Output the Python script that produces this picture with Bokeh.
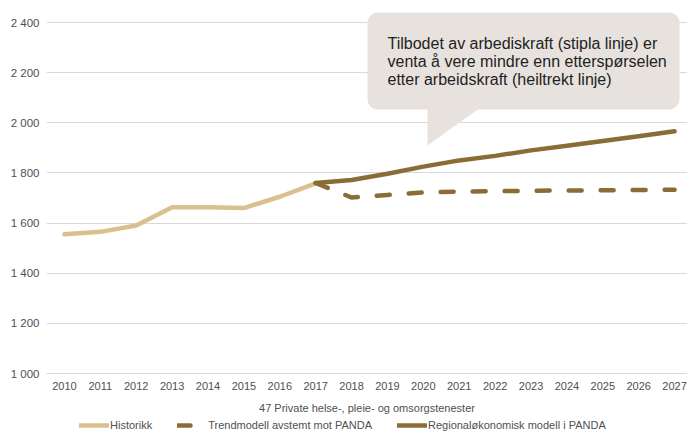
from bokeh.plotting import figure
from bokeh.models import Range1d, FixedTicker, Legend, LegendItem
from bokeh.layouts import column
from bokeh.core.properties import value
from bokeh.embed import file_html
from bokeh.resources import INLINE

# ---- data ----
years_hist = [2010, 2011, 2012, 2013, 2014, 2015, 2016, 2017]
historikk = [1555, 1565, 1590, 1663, 1663, 1660, 1705, 1758]

years_proj = [2017, 2018, 2019, 2020, 2021, 2022, 2023, 2024, 2025, 2026, 2027]
trendmodell = [1760, 1702, 1712, 1722, 1726, 1727, 1729, 1730, 1731, 1732, 1733]
regional = [1760, 1772, 1797, 1825, 1850, 1868, 1890, 1908, 1927, 1946, 1966]

xtick_years = list(range(2010, 2028))
ytick_values = [1000, 1200, 1400, 1600, 1800, 2000, 2200, 2400]
ytick_labels = ["1 000", "1 200", "1 400", "1 600", "1 800", "2 000", "2 200", "2 400"]

series_names = ["Historikk", "Trendmodell avstemt mot PANDA", "Regionaløkonomisk modell i PANDA"]
axis_title = "47 Private helse-, pleie- og omsorgstenester"
callout_lines = [
    "Tilbodet av arbediskraft (stipla linje) er",
    "venta å vere mindre enn etterspørselen",
    "etter arbeidskraft (heiltrekt linje)",
]

# ---- style ----
LIGHT = "#D8C08F"
DARK = "#8A6D36"
GRID = "#D9D9D9"
TXT = "#505050"
BOX = "#E7E2DD"
FONT = "Liberation Sans"

OFFX, OFFY = 3, 0          # observed placement of the figure on the page
W = 687
H1, H2 = 416, 18           # main chart, legend strip
FL, FT, FB = 46, 10, 373   # frame left, top, bottom in figure px
X0, X1 = 2009.5, 2027.36
Y0 = 1000
Y_PER_PX = 1400 / 351.0
Y1 = 2400 + 12 * Y_PER_PX

p = figure(width=W, height=H1, output_backend="svg", toolbar_location=None,
           x_range=Range1d(X0, X1), y_range=Range1d(Y0, Y1),
           min_border_left=FL, min_border_right=0, min_border_top=FT,
           min_border_bottom=H1 - FB)
p.outline_line_color = None
p.background_fill_color = "white"

PX_PER_YEAR = (W - FL) / (X1 - X0)
def px2x(px):
    return X0 + (px - OFFX - FL) / PX_PER_YEAR
def py2y(py):
    return Y0 + (FB + OFFY - py) * Y_PER_PX

# axes
p.xaxis.ticker = FixedTicker(ticks=xtick_years)
p.xaxis.major_tick_line_color = None
p.xaxis.minor_tick_line_color = None
p.xaxis.axis_line_color = GRID
p.xaxis.major_label_text_font = FONT
p.xaxis.major_label_text_font_size = "11px"
p.xaxis.major_label_text_color = TXT
p.xaxis.major_label_standoff = 2
p.xaxis.axis_label = axis_title
p.xaxis.axis_label_text_font = FONT
p.xaxis.axis_label_text_font_size = "11px"
p.xaxis.axis_label_text_font_style = "normal"
p.xaxis.axis_label_text_color = TXT
p.xaxis.axis_label_standoff = 9

p.yaxis.ticker = FixedTicker(ticks=ytick_values)
p.yaxis.major_label_overrides = {v: l for v, l in zip(ytick_values, ytick_labels)}
p.yaxis.major_tick_line_color = None
p.yaxis.minor_tick_line_color = None
p.yaxis.major_tick_out = 0
p.yaxis.major_tick_in = 0
p.yaxis.axis_line_color = None
p.yaxis.major_label_text_font = FONT
p.yaxis.major_label_text_font_size = "11.5px"
p.yaxis.major_label_text_color = TXT
p.yaxis.major_label_standoff = 7

p.xgrid.grid_line_color = None
p.ygrid.grid_line_color = GRID
p.ygrid.grid_line_width = 1
p.ygrid.ticker = FixedTicker(ticks=ytick_values)

# callout
p.quad(left=[px2x(370)], right=[px2x(682)], top=[py2y(12)], bottom=[py2y(109)],
       fill_color=BOX, line_color=None, border_radius=10)
p.patch(x=[px2x(430), px2x(483), px2x(430)], y=[py2y(107), py2y(107), py2y(145)],
        fill_color=BOX, line_color=None)
for i, line in enumerate(callout_lines):
    p.text(x=[px2x(390)], y=[py2y(42.7 + 18.2 * i)], text=[line],
           text_font=value(FONT), text_font_size="16px", text_color="#222222",
           text_baseline="alphabetic", text_align="left")

# series
styles = [dict(line_color=LIGHT, line_width=4.5, line_cap="round", line_join="round"),
          dict(line_color=DARK, line_width=4.5, line_dash="13 19", line_cap="round", line_join="round"),
          dict(line_color=DARK, line_width=4.5, line_cap="round", line_join="round")]
series = [(years_hist, historikk), (years_proj, trendmodell), (years_proj, regional)]
for (xs, ys), st in zip(series, styles):
    p.line(xs, ys, **st)

# legend strip (separate figure so the legend is not clipped by the main frame)
p2 = figure(width=W, height=H2, output_backend="svg", toolbar_location=None,
            x_range=Range1d(0, 1), y_range=Range1d(0, 1),
            x_axis_type=None, y_axis_type=None, min_border=0)
p2.outline_line_color = None
p2.xgrid.visible = False
p2.ygrid.visible = False
legend_renderers = [p2.line(xs, ys, **st) for (xs, ys), st in zip(series, styles)]

legend = Legend(items=[LegendItem(label=n, renderers=[r])
                       for n, r in zip(series_names, legend_renderers)],
                orientation="horizontal", location=(82 - OFFX - FL, 0),
                padding=0, margin=0, spacing=25, glyph_width=30, glyph_height=H2,
                label_standoff=1, label_height=H2,
                label_text_font=FONT, label_text_font_size="11px",
                label_text_color=TXT, border_line_color=None,
                background_fill_alpha=0)
p2.add_layout(legend, "center")

layout = column(p, p2, spacing=0)
open("out.html", "w").write(file_html(layout, INLINE))
